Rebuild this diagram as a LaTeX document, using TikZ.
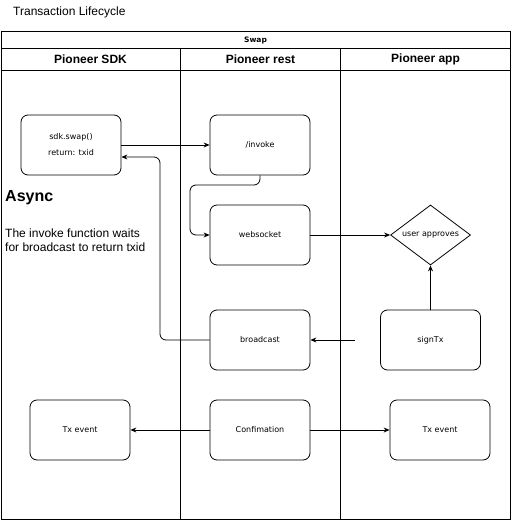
\documentclass[tikz,border=0pt]{standalone}
\usepackage{fontspec}
\setmainfont{Liberation Sans}
\newfontfamily\boxfont{DejaVu Sans}
\usetikzlibrary{shapes.geometric,arrows.meta}
\begin{document}
\begin{tikzpicture}[x=1pt,y=-1pt,
  every node/.style={inner sep=0pt},
  proc/.style={draw, rounded corners=7pt, minimum width=100pt, minimum height=60pt,
    font=\boxfont\fontsize{8}{12}\selectfont, line width=0.8pt, align=center},
  decide/.style={draw, shape=diamond, aspect=1.333, minimum width=80pt, minimum height=60pt,
    font=\boxfont\fontsize{8}{10}\selectfont, line width=0.8pt},
  arr/.style={draw, line width=0.8pt, -{Stealth[length=6pt,width=5pt,inset=2pt]}},
  lane/.style={draw, line width=0.9pt},
  lanehead/.style={font=\bfseries\fontsize{12}{14}\selectfont},
]
\useasboundingbox (0,0) rectangle (511,521);

% title
\node[anchor=west, font=\fontsize{12}{14}\selectfont] (title) at (13,12) {Transaction Lifecycle};

% pool
\draw[lane] (1,31) rectangle (510,519.5);
\draw[lane] (1,48.5) -- (510,48.5);
\draw[lane] (1,70) -- (510,70);
\draw[lane] (180.5,48.5) -- (180.5,519.5);
\draw[lane] (340.5,48.5) -- (340.5,519.5);
\node[font=\boxfont\bfseries\fontsize{7.5}{9}\selectfont] (pool) at (255.5,40) {Swap};
\node[lanehead] (l1) at (90.5,59.5) {Pioneer SDK};
\node[lanehead] (l2) at (260.5,59.5) {Pioneer rest};
\node[lanehead] (l3) at (425.5,59.5) {Pioneer app};

% note
\node[anchor=west, font=\bfseries\fontsize{16}{18}\selectfont] (async) at (5,198) {Async};
\node[anchor=west, align=left, font=\fontsize{12}{14}\selectfont] (note) at (5,240)
  {The invoke function waits\\for broadcast to return txid};

% nodes
\node[proc] (sdk) at (71,145) {sdk.swap()\\[4pt]return: txid};
\node[proc] (inv) at (260,145) {/invoke};
\node[proc] (ws) at (260,235) {websocket};
\node[decide] (dia) at (430.5,235) {user approves};
\node[proc] (bc) at (260,340) {broadcast};
\node[proc] (sign) at (430.5,340) {signTx};
\node[proc] (txl) at (80,430) {Tx event};
\node[proc] (conf) at (260,430) {Confimation};
\node[proc] (txr) at (440,430) {Tx event};

\coordinate (sdkret) at ([yshift=-12pt]sdk.east);
\coordinate (signfree) at (355,340);

% connectors
\draw[arr] (sdk.east) -- (inv.west);
\draw[arr, rounded corners=6pt] (bc.west) -| (160,157) -- (sdkret);
\draw[arr, rounded corners=6pt] (inv.south) -- (260,185) -| (190,235) -- (ws.west);
\draw[arr] (ws.east) -- (dia.west);
\draw[arr] (sign.north) -- (dia.south);
\draw[arr] (signfree) -- (bc.east);
\draw[arr] (conf.west) -- (txl.east);
\draw[arr] (conf.east) -- (txr.west);
\end{tikzpicture}
\end{document}
